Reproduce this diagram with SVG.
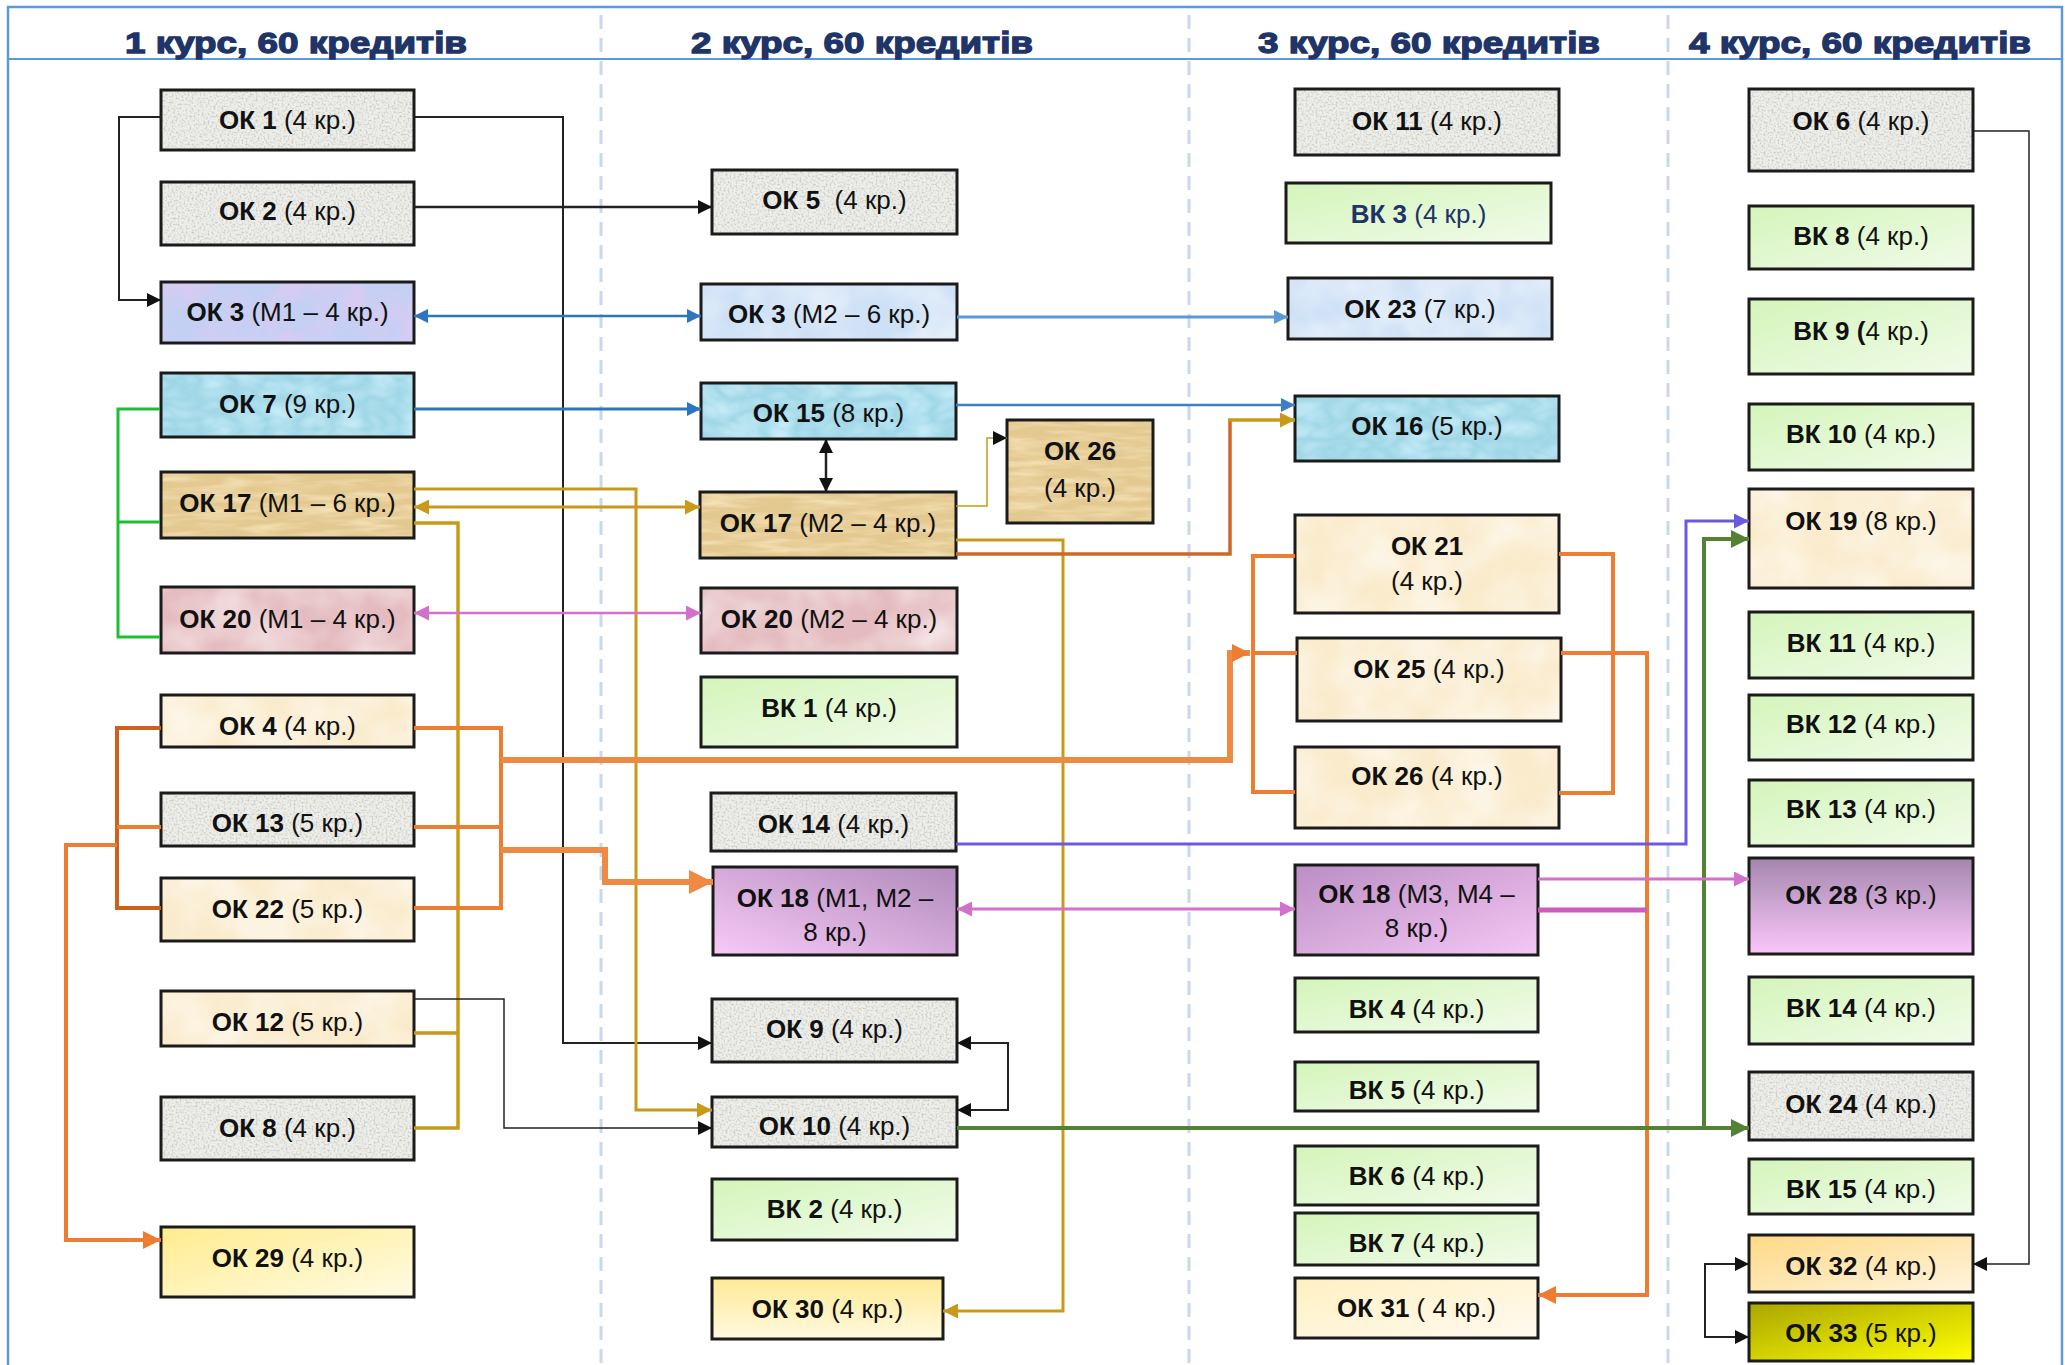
<svg xmlns="http://www.w3.org/2000/svg" width="2065" height="1365" viewBox="0 0 2065 1365">
<style>
.n{stroke:#1b1b1b;stroke-width:3}
.t{font-family:"Liberation Sans",Arial,sans-serif;font-size:26px;fill:#111;text-anchor:middle}
.b{font-weight:bold}
.h{font-family:"Liberation Sans",Arial,sans-serif;font-size:30px;font-weight:bold;fill:#1f3468;stroke:#1f3468;stroke-width:1.3;text-anchor:middle}
.c{fill:none;stroke-linejoin:miter}
.bk{stroke:#222}
.gd{stroke:#c99a1a}
.or{stroke:#ed7d31}
.pk{stroke:#d271c9}
.gr{stroke:#548235}
.div{stroke:#c9d8f0;stroke-width:3;stroke-dasharray:14 9}
</style>
<defs>
<filter id="tGranite" color-interpolation-filters="sRGB">
<feTurbulence type="fractalNoise" baseFrequency="0.5" numOctaves="3" seed="3"/>
<feColorMatrix type="matrix" values="0 0 0 0 0.66 0 0 0 0 0.66 0 0 0 0 0.63 1.4 0 0 0 -0.62"/>
<feComposite in2="SourceGraphic" operator="atop"/>
</filter>
<filter id="tWater" color-interpolation-filters="sRGB">
<feTurbulence type="turbulence" baseFrequency="0.03 0.05" numOctaves="2" seed="5"/>
<feColorMatrix type="matrix" values="0 0 0 0 0.85 0 0 0 0 0.96 0 0 0 0 1 1.0 0 0 0 -0.05"/>
<feComposite in2="SourceGraphic" operator="atop"/>
</filter>
<filter id="tParch" color-interpolation-filters="sRGB">
<feTurbulence type="fractalNoise" baseFrequency="0.02 0.15" numOctaves="3" seed="9"/>
<feColorMatrix type="matrix" values="0 0 0 0 0.97 0 0 0 0 0.9 0 0 0 0 0.74 1.8 0 0 0 -0.7"/>
<feComposite in2="SourceGraphic" operator="atop"/>
</filter>
<filter id="tSoft" color-interpolation-filters="sRGB">
<feTurbulence type="fractalNoise" baseFrequency="0.02" numOctaves="3" seed="11"/>
<feColorMatrix type="matrix" values="0 0 0 0 1 0 0 0 0 1 0 0 0 0 1 1.0 0 0 0 -0.3"/>
<feComposite in2="SourceGraphic" operator="atop"/>
</filter>
<filter id="tLav" color-interpolation-filters="sRGB">
<feTurbulence type="fractalNoise" baseFrequency="0.03" numOctaves="3" seed="4"/>
<feColorMatrix type="matrix" values="0 0 0 0 0.9 0 0 0 0 0.78 0 0 0 0 0.95 1.6 0 0 0 -0.6"/>
<feComposite in2="SourceGraphic" operator="atop"/>
</filter>
<pattern id="pGranite" patternUnits="userSpaceOnUse" width="2065" height="1365"><rect width="2065" height="1365" fill="#eeeeea" filter="url(#tGranite)"/></pattern>
<pattern id="pWater" patternUnits="userSpaceOnUse" width="2065" height="1365"><rect width="2065" height="1365" fill="#a0d7e7" filter="url(#tWater)"/></pattern>
<pattern id="pParch" patternUnits="userSpaceOnUse" width="2065" height="1365"><rect width="2065" height="1365" fill="#e3c88f" filter="url(#tParch)"/></pattern>
<pattern id="pCream" patternUnits="userSpaceOnUse" width="2065" height="1365"><rect width="2065" height="1365" fill="#faebcc" filter="url(#tSoft)"/></pattern>
<pattern id="pPink" patternUnits="userSpaceOnUse" width="2065" height="1365"><rect width="2065" height="1365" fill="#e4bbbf" filter="url(#tSoft)"/></pattern>
<pattern id="pBlue" patternUnits="userSpaceOnUse" width="2065" height="1365"><rect width="2065" height="1365" fill="#cde0f5" filter="url(#tSoft)"/></pattern>
<pattern id="pLav" patternUnits="userSpaceOnUse" width="2065" height="1365"><rect width="2065" height="1365" fill="#c3d0f3" filter="url(#tLav)"/></pattern>
<linearGradient id="gGreen" x1="0" y1="0" x2="1" y2="1"><stop offset="0" stop-color="#d5f5bb"/><stop offset="1" stop-color="#f0fbe9"/></linearGradient>
<linearGradient id="gP1" x1="1" y1="0" x2="0" y2="1"><stop offset="0" stop-color="#b08bbb"/><stop offset="1" stop-color="#f8c9f8"/></linearGradient>
<linearGradient id="gP2" x1="0" y1="0" x2="1" y2="1"><stop offset="0" stop-color="#bb8ec4"/><stop offset="1" stop-color="#f5c7f5"/></linearGradient>
<linearGradient id="gP3" x1="0" y1="0" x2="0" y2="1"><stop offset="0" stop-color="#a387ad"/><stop offset="1" stop-color="#fbc7fb"/></linearGradient>
<linearGradient id="gY1" x1="0" y1="0" x2="1" y2="1"><stop offset="0" stop-color="#ffec8e"/><stop offset="1" stop-color="#fffbe4"/></linearGradient>
<linearGradient id="gY2" x1="0" y1="0" x2="0" y2="1"><stop offset="0" stop-color="#ffea96"/><stop offset="1" stop-color="#fff9df"/></linearGradient>
<linearGradient id="gY3" x1="0" y1="0" x2="1" y2="1"><stop offset="0" stop-color="#fff0c2"/><stop offset="1" stop-color="#fffaf0"/></linearGradient>
<linearGradient id="gO" x1="0" y1="0" x2="1" y2="1"><stop offset="0" stop-color="#ffd985"/><stop offset="1" stop-color="#fff4de"/></linearGradient>
<linearGradient id="gOl" x1="0" y1="0" x2="1" y2="1"><stop offset="0" stop-color="#aaa600"/><stop offset="1" stop-color="#ffff00"/></linearGradient>
<marker id="aBk" viewBox="0 0 10 10" refX="10" refY="5" markerUnits="userSpaceOnUse" markerWidth="14" markerHeight="14" orient="auto-start-reverse"><path d="M0,0L10,5L0,10z" fill="#111"/></marker>
<marker id="aBl" viewBox="0 0 10 10" refX="10" refY="5" markerUnits="userSpaceOnUse" markerWidth="14" markerHeight="14" orient="auto-start-reverse"><path d="M0,0L10,5L0,10z" fill="#2e75c0"/></marker>
<marker id="aBl2" viewBox="0 0 10 10" refX="10" refY="5" markerUnits="userSpaceOnUse" markerWidth="14" markerHeight="14" orient="auto-start-reverse"><path d="M0,0L10,5L0,10z" fill="#5b9bd5"/></marker>
<marker id="aBl3" viewBox="0 0 10 10" refX="10" refY="5" markerUnits="userSpaceOnUse" markerWidth="14" markerHeight="14" orient="auto-start-reverse"><path d="M0,0L10,5L0,10z" fill="#3f7fc4"/></marker>
<marker id="aGd" viewBox="0 0 10 10" refX="10" refY="5" markerUnits="userSpaceOnUse" markerWidth="15" markerHeight="15" orient="auto-start-reverse"><path d="M0,0L10,5L0,10z" fill="#c99a1a"/></marker>
<marker id="aPk" viewBox="0 0 10 10" refX="10" refY="5" markerUnits="userSpaceOnUse" markerWidth="15" markerHeight="15" orient="auto-start-reverse"><path d="M0,0L10,5L0,10z" fill="#d271c9"/></marker>
<marker id="aOr" viewBox="0 0 10 10" refX="10" refY="5" markerUnits="userSpaceOnUse" markerWidth="18" markerHeight="18" orient="auto-start-reverse"><path d="M0,0L10,5L0,10z" fill="#ed7d31"/></marker>
<marker id="aOrB" viewBox="0 0 10 10" refX="10" refY="5" markerUnits="userSpaceOnUse" markerWidth="25" markerHeight="24" orient="auto-start-reverse"><path d="M0,0L10,5L0,10z" fill="#ef8a45"/></marker>
<marker id="aGr" viewBox="0 0 10 10" refX="10" refY="5" markerUnits="userSpaceOnUse" markerWidth="18" markerHeight="18" orient="auto-start-reverse"><path d="M0,0L10,5L0,10z" fill="#548235"/></marker>
<marker id="aVi" viewBox="0 0 10 10" refX="10" refY="5" markerUnits="userSpaceOnUse" markerWidth="15" markerHeight="15" orient="auto-start-reverse"><path d="M0,0L10,5L0,10z" fill="#6a5ae0"/></marker>
</defs>
<rect width="2065" height="1365" fill="#fff"/>
<g id="frame">
<rect x="8" y="7" width="2054" height="1370" fill="none" stroke="#5b9bd5" stroke-width="2.5"/>
<line x1="8" y1="59" x2="2062" y2="59" stroke="#5b9bd5" stroke-width="2"/>
<line class="div" x1="601" y1="15" x2="601" y2="1365"/>
<line class="div" x1="1189" y1="15" x2="1189" y2="1365"/>
<line class="div" x1="1668" y1="15" x2="1668" y2="1365"/>
<text class="h" x="296" y="53" textLength="342" lengthAdjust="spacingAndGlyphs">1 курс, 60 кредитів</text>
<text class="h" x="862" y="53" textLength="342" lengthAdjust="spacingAndGlyphs">2 курс, 60 кредитів</text>
<text class="h" x="1429" y="53" textLength="342" lengthAdjust="spacingAndGlyphs">3 курс, 60 кредитів</text>
<text class="h" x="1860" y="53" textLength="342" lengthAdjust="spacingAndGlyphs">4 курс, 60 кредитів</text>
</g>
<g id="nodes">
<g id="ok1"><rect class="n" x="161" y="90" width="253" height="60" fill="url(#pGranite)"/><text class="t" x="287.5" y="129"><tspan class="b">ОК 1</tspan> (4 кр.)</text></g>
<g id="ok2"><rect class="n" x="161" y="182" width="253" height="63" fill="url(#pGranite)"/><text class="t" x="287.5" y="220"><tspan class="b">ОК 2</tspan> (4 кр.)</text></g>
<g id="ok3m1"><rect class="n" x="161" y="282" width="253" height="61" fill="url(#pLav)"/><text class="t" x="287.5" y="321"><tspan class="b">ОК 3</tspan> (М1 – 4 кр.)</text></g>
<g id="ok7"><rect class="n" x="161" y="373" width="253" height="64" fill="url(#pWater)"/><text class="t" x="287.5" y="413"><tspan class="b">ОК 7</tspan> (9 кр.)</text></g>
<g id="ok17m1"><rect class="n" x="161" y="472" width="253" height="66" fill="url(#pParch)"/><text class="t" x="287.5" y="512"><tspan class="b">ОК 17</tspan> (М1 – 6 кр.)</text></g>
<g id="ok20m1"><rect class="n" x="161" y="587" width="253" height="66" fill="url(#pPink)"/><text class="t" x="287.5" y="628"><tspan class="b">ОК 20</tspan> (М1 – 4 кр.)</text></g>
<g id="ok4"><rect class="n" x="161" y="695" width="253" height="52" fill="url(#pCream)"/><text class="t" x="287.5" y="735"><tspan class="b">ОК 4</tspan> (4 кр.)</text></g>
<g id="ok13"><rect class="n" x="161" y="793" width="253" height="53" fill="url(#pGranite)"/><text class="t" x="287.5" y="832"><tspan class="b">ОК 13</tspan> (5 кр.)</text></g>
<g id="ok22"><rect class="n" x="161" y="878" width="253" height="63" fill="url(#pCream)"/><text class="t" x="287.5" y="918"><tspan class="b">ОК 22</tspan> (5 кр.)</text></g>
<g id="ok12"><rect class="n" x="161" y="991" width="253" height="55" fill="url(#pCream)"/><text class="t" x="287.5" y="1031"><tspan class="b">ОК 12</tspan> (5 кр.)</text></g>
<g id="ok8"><rect class="n" x="161" y="1097" width="253" height="63" fill="url(#pGranite)"/><text class="t" x="287.5" y="1137"><tspan class="b">ОК 8</tspan> (4 кр.)</text></g>
<g id="ok29"><rect class="n" x="161" y="1227" width="253" height="70" fill="url(#gY1)"/><text class="t" x="287.5" y="1267"><tspan class="b">ОК 29</tspan> (4 кр.)</text></g>

<g id="ok5"><rect class="n" x="712" y="170" width="245" height="64" fill="url(#pGranite)"/><text class="t" x="834.5" y="209" style="white-space:pre"><tspan class="b">ОК 5</tspan>  (4 кр.)</text></g>
<g id="ok3m2"><rect class="n" x="701" y="284" width="256" height="56" fill="url(#pBlue)"/><text class="t" x="829" y="323"><tspan class="b">ОК 3</tspan> (М2 – 6 кр.)</text></g>
<g id="ok15"><rect class="n" x="701" y="383" width="255" height="56" fill="url(#pWater)"/><text class="t" x="828.5" y="422"><tspan class="b">ОК 15</tspan> (8 кр.)</text></g>
<g id="ok26s"><rect class="n" x="1007" y="420" width="146" height="103" fill="url(#pParch)"/><text class="t" x="1080" y="460"><tspan class="b">ОК 26</tspan></text><text class="t" x="1080" y="497">(4 кр.)</text></g>
<g id="ok17m2"><rect class="n" x="700" y="492" width="256" height="66" fill="url(#pParch)"/><text class="t" x="828" y="532"><tspan class="b">ОК 17</tspan> (М2 – 4 кр.)</text></g>
<g id="ok20m2"><rect class="n" x="701" y="588" width="256" height="65" fill="url(#pPink)"/><text class="t" x="829" y="628"><tspan class="b">ОК 20</tspan> (М2 – 4 кр.)</text></g>
<g id="vk1"><rect class="n" x="701" y="677" width="256" height="70" fill="url(#gGreen)"/><text class="t" x="829" y="717"><tspan class="b">ВК 1</tspan> (4 кр.)</text></g>
<g id="ok14"><rect class="n" x="711" y="793" width="245" height="58" fill="url(#pGranite)"/><text class="t" x="833.5" y="833"><tspan class="b">ОК 14</tspan> (4 кр.)</text></g>
<g id="ok18m12"><rect class="n" x="713" y="867" width="244" height="88" fill="url(#gP1)"/><text class="t" x="835" y="907"><tspan class="b">ОК 18</tspan> (М1, М2 –</text><text class="t" x="835" y="941">8 кр.)</text></g>
<g id="ok9"><rect class="n" x="712" y="999" width="245" height="63" fill="url(#pGranite)"/><text class="t" x="834.5" y="1038"><tspan class="b">ОК 9</tspan> (4 кр.)</text></g>
<g id="ok10"><rect class="n" x="712" y="1097" width="245" height="50" fill="url(#pGranite)"/><text class="t" x="834.5" y="1135"><tspan class="b">ОК 10</tspan> (4 кр.)</text></g>
<g id="vk2"><rect class="n" x="712" y="1179" width="245" height="61" fill="url(#gGreen)"/><text class="t" x="834.5" y="1218"><tspan class="b">ВК 2</tspan> (4 кр.)</text></g>
<g id="ok30"><rect class="n" x="712" y="1278" width="231" height="61" fill="url(#gY2)"/><text class="t" x="827.5" y="1318"><tspan class="b">ОК 30</tspan> (4 кр.)</text></g>

<g id="ok11"><rect class="n" x="1295" y="89" width="264" height="66" fill="url(#pGranite)"/><text class="t" x="1427" y="130"><tspan class="b">ОК 11</tspan> (4 кр.)</text></g>
<g id="vk3"><rect class="n" x="1286" y="183" width="265" height="60" fill="url(#gGreen)"/><text class="t" x="1418.5" y="223" style="fill:#1f3468"><tspan class="b">ВК 3</tspan> (4 кр.)</text></g>
<g id="ok23"><rect class="n" x="1288" y="278" width="264" height="61" fill="url(#pBlue)"/><text class="t" x="1420" y="318"><tspan class="b">ОК 23</tspan> (7 кр.)</text></g>
<g id="ok16"><rect class="n" x="1295" y="396" width="264" height="65" fill="url(#pWater)"/><text class="t" x="1427" y="435"><tspan class="b">ОК 16</tspan> (5 кр.)</text></g>
<g id="ok21"><rect class="n" x="1295" y="515" width="264" height="98" fill="url(#pCream)"/><text class="t" x="1427" y="555"><tspan class="b">ОК 21</tspan></text><text class="t" x="1427" y="590">(4 кр.)</text></g>
<g id="ok25"><rect class="n" x="1297" y="638" width="264" height="83" fill="url(#pCream)"/><text class="t" x="1429" y="678"><tspan class="b">ОК 25</tspan> (4 кр.)</text></g>
<g id="ok26"><rect class="n" x="1295" y="747" width="264" height="81" fill="url(#pCream)"/><text class="t" x="1427" y="785"><tspan class="b">ОК 26</tspan> (4 кр.)</text></g>
<g id="ok18m34"><rect class="n" x="1295" y="865" width="243" height="90" fill="url(#gP2)"/><text class="t" x="1416.5" y="903"><tspan class="b">ОК 18</tspan> (М3, М4 –</text><text class="t" x="1416.5" y="937">8 кр.)</text></g>
<g id="vk4"><rect class="n" x="1295" y="978" width="243" height="54" fill="url(#gGreen)"/><text class="t" x="1416.5" y="1018"><tspan class="b">ВК 4</tspan> (4 кр.)</text></g>
<g id="vk5"><rect class="n" x="1295" y="1062" width="243" height="49" fill="url(#gGreen)"/><text class="t" x="1416.5" y="1099"><tspan class="b">ВК 5</tspan> (4 кр.)</text></g>
<g id="vk6"><rect class="n" x="1295" y="1146" width="243" height="59" fill="url(#gGreen)"/><text class="t" x="1416.5" y="1185"><tspan class="b">ВК 6</tspan> (4 кр.)</text></g>
<g id="vk7"><rect class="n" x="1295" y="1213" width="243" height="52" fill="url(#gGreen)"/><text class="t" x="1416.5" y="1252"><tspan class="b">ВК 7</tspan> (4 кр.)</text></g>
<g id="ok31"><rect class="n" x="1295" y="1278" width="243" height="60" fill="url(#gY3)"/><text class="t" x="1416.5" y="1317" style="white-space:pre"><tspan class="b">ОК 31</tspan> ( 4 кр.)</text></g>

<g id="ok6"><rect class="n" x="1749" y="89" width="224" height="82" fill="url(#pGranite)"/><text class="t" x="1861" y="130"><tspan class="b">ОК 6</tspan> (4 кр.)</text></g>
<g id="vk8"><rect class="n" x="1749" y="206" width="224" height="63" fill="url(#gGreen)"/><text class="t" x="1861" y="245"><tspan class="b">ВК 8</tspan> (4 кр.)</text></g>
<g id="vk9"><rect class="n" x="1749" y="299" width="224" height="75" fill="url(#gGreen)"/><text class="t" x="1861" y="340"><tspan class="b">ВК 9 (</tspan>4 кр.)</text></g>
<g id="vk10"><rect class="n" x="1749" y="404" width="224" height="66" fill="url(#gGreen)"/><text class="t" x="1861" y="443"><tspan class="b">ВК 10</tspan> (4 кр.)</text></g>
<g id="ok19"><rect class="n" x="1749" y="489" width="224" height="99" fill="url(#pCream)"/><text class="t" x="1861" y="530"><tspan class="b">ОК 19</tspan> (8 кр.)</text></g>
<g id="vk11"><rect class="n" x="1749" y="612" width="224" height="66" fill="url(#gGreen)"/><text class="t" x="1861" y="652"><tspan class="b">ВК 11</tspan> (4 кр.)</text></g>
<g id="vk12"><rect class="n" x="1749" y="695" width="224" height="65" fill="url(#gGreen)"/><text class="t" x="1861" y="733"><tspan class="b">ВК 12</tspan> (4 кр.)</text></g>
<g id="vk13"><rect class="n" x="1749" y="780" width="224" height="66" fill="url(#gGreen)"/><text class="t" x="1861" y="818"><tspan class="b">ВК 13</tspan> (4 кр.)</text></g>
<g id="ok28"><rect class="n" x="1749" y="858" width="224" height="96" fill="url(#gP3)"/><text class="t" x="1861" y="904"><tspan class="b">ОК 28</tspan> (3 кр.)</text></g>
<g id="vk14"><rect class="n" x="1749" y="977" width="224" height="67" fill="url(#gGreen)"/><text class="t" x="1861" y="1017"><tspan class="b">ВК 14</tspan> (4 кр.)</text></g>
<g id="ok24"><rect class="n" x="1749" y="1072" width="224" height="68" fill="url(#pGranite)"/><text class="t" x="1861" y="1113"><tspan class="b">ОК 24</tspan> (4 кр.)</text></g>
<g id="vk15"><rect class="n" x="1749" y="1159" width="224" height="55" fill="url(#gGreen)"/><text class="t" x="1861" y="1198"><tspan class="b">ВК 15</tspan> (4 кр.)</text></g>
<g id="ok32"><rect class="n" x="1749" y="1235" width="224" height="57" fill="url(#gO)"/><text class="t" x="1861" y="1275"><tspan class="b">ОК 32</tspan> (4 кр.)</text></g>
<g id="ok33"><rect class="n" x="1749" y="1303" width="224" height="58" fill="url(#gOl)"/><text class="t" x="1861" y="1342"><tspan class="b">ОК 33</tspan> (5 кр.)</text></g>
</g>
<g id="connectors">
<path class="c bk" stroke-width="2" d="M161,117 H119 V300 H161" marker-end="url(#aBk)"/>
<path class="c bk" stroke-width="2" d="M414,117 H563 V1043 H712" marker-end="url(#aBk)"/>
<path class="c bk" stroke-width="2.5" d="M414,207 H712" marker-end="url(#aBk)"/>
<path class="c" stroke="#2e75c0" stroke-width="2.5" d="M414,316 H701" marker-start="url(#aBl)" marker-end="url(#aBl)"/>
<path class="c" stroke="#5b9bd5" stroke-width="3" d="M957,317 H1288" marker-end="url(#aBl2)"/>
<path class="c" stroke="#2e75c0" stroke-width="3" d="M414,409 H701" marker-end="url(#aBl)"/>
<path class="c" stroke="#3f7fc4" stroke-width="2.5" d="M956,405 H1295" marker-end="url(#aBl3)"/>
<path class="c bk" stroke-width="2.5" d="M826,439 V492" marker-start="url(#aBk)" marker-end="url(#aBk)"/>
<path class="c gd" stroke-width="1.5" d="M956,506 H987 V438 H1007" marker-end="url(#aBk)"/>
<path class="c gd" stroke-width="3" d="M956,540 H1063 V1311 H943" marker-end="url(#aGd)"/>
<path class="c" stroke="#d0672a" stroke-width="3.5" d="M956,554 H1230 V420"/>
<path class="c gd" stroke-width="3.5" d="M1228,420 H1295" marker-end="url(#aGd)"/>
<path class="c gd" stroke-width="3" d="M414,507 H700" marker-start="url(#aGd)" marker-end="url(#aGd)"/>
<path class="c gd" stroke-width="3" d="M414,489 H636 V1110 H712" marker-end="url(#aGd)"/>
<path class="c gd" stroke-width="3.5" d="M414,523 H458 V1128 H414 M414,1033 H458"/>
<path class="c" stroke="#1fbf35" stroke-width="3" d="M160,409 H118 V637 H160 M118,522 H160"/>
<path class="c pk" stroke-width="2.5" d="M414,613 H701" marker-start="url(#aPk)" marker-end="url(#aPk)"/>
<path class="c" stroke="#cf5f1c" stroke-width="4" d="M161,728 H117 V908 H161"/>
<path class="c or" stroke-width="4" d="M117,827 H161"/>
<path class="c or" stroke-width="4" d="M117,845 H66 V1240 H161" marker-end="url(#aOr)"/>
<path class="c or" stroke-width="4" d="M414,728 H501 V908 H414 M414,827 H501"/>
<path class="c" stroke="#ef8a45" stroke-width="6" d="M501,760 H1230 V653 H1250" marker-end="url(#aOr)"/>
<path class="c" stroke="#ef8a45" stroke-width="6" d="M501,850 H605 V882 H713" marker-end="url(#aOrB)"/>
<path class="c or" stroke-width="4" d="M1295,556 H1253 V792 H1295 M1253,653 H1297"/>
<path class="c or" stroke-width="4" d="M1559,554 H1613 V793 H1559"/>
<path class="c or" stroke-width="4" d="M1561,653 H1647 V1295 H1538" marker-end="url(#aOr)"/>
<path class="c" stroke="#6a5ae0" stroke-width="3" d="M956,844 H1686 V521 H1749" marker-end="url(#aVi)"/>
<path class="c gr" stroke-width="4" d="M957,1128 H1749" marker-end="url(#aGr)"/>
<path class="c gr" stroke-width="4" d="M1704,1128 V539 H1749" marker-end="url(#aGr)"/>
<path class="c pk" stroke-width="3" d="M957,909 H1295" marker-start="url(#aPk)" marker-end="url(#aPk)"/>
<path class="c pk" stroke-width="3" d="M1538,879 H1749" marker-end="url(#aPk)"/>
<path class="c" stroke="#cc5cc0" stroke-width="5" d="M1538,910 H1647"/>
<path class="c bk" stroke-width="1.5" d="M414,999 H504 V1128 H712" marker-end="url(#aBk)"/>
<path class="c bk" stroke-width="2" d="M957,1043 H1008 V1110 H957" marker-start="url(#aBk)" marker-end="url(#aBk)"/>
<path class="c bk" stroke-width="1.5" d="M1973,131 H2029 V1264 H1973" marker-end="url(#aBk)"/>
<path class="c bk" stroke-width="2" d="M1749,1264 H1705 V1337 H1749" marker-start="url(#aBk)" marker-end="url(#aBk)"/>
</g>
</svg>
